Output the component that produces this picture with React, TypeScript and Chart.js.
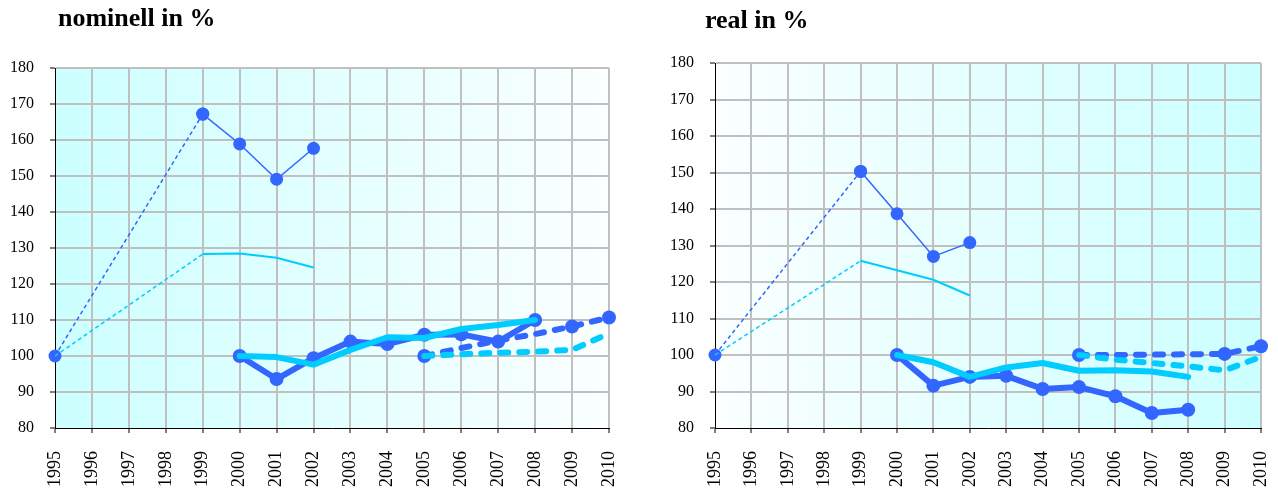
import React, { useEffect, useRef } from "react";
import { Chart, registerables } from "chart.js";

Chart.register(...registerables);

const years = ["1995", "1996", "1997", "1998", "1999", "2000", "2001", "2002", "2003", "2004", "2005", "2006", "2007", "2008", "2009", "2010"];
const yTicks = [80, 90, 100, 110, 120, 130, 140, 150, 160, 170, 180];

const N = null;
// nominell
const nomBlueThinDash = [100, N, N, N, 167.2, N, N, N, N, N, N, N, N, N, N, N];
const nomBlueThin = [N, N, N, N, 167.2, 158.9, 149.1, 157.7, N, N, N, N, N, N, N, N];
const nomCyanThinDash = [100, N, N, N, 128.3, N, N, N, N, N, N, N, N, N, N, N];
const nomCyanThin = [N, N, N, N, 128.3, 128.5, 127.3, 124.6, N, N, N, N, N, N, N, N];
const nomBlueThick = [N, N, N, N, N, 100, 93.6, 99.4, 104, 103.3, 105.9, 106, 104, 110, N, N];
const nomCyanThick = [N, N, N, N, N, 100, 99.7, 97.6, 101.7, 105.2, 105, 107.5, 108.6, 110, N, N];
const nomBlueThickDash = [N, N, N, N, N, N, N, N, N, N, 100, 102.2, 104.3, 106.1, 108.2, 110.7];
const nomCyanThickDash = [N, N, N, N, N, N, N, N, N, N, 100, 100.5, 100.9, 101.2, 101.7, 106.3];

// real
const realBlueThinDash = [100, N, N, N, 150.3, N, N, N, N, N, N, N, N, N, N, N];
const realBlueThin = [N, N, N, N, 150.3, 138.7, 127, 130.8, N, N, N, N, N, N, N, N];
const realCyanThinDash = [100, N, N, N, 125.8, N, N, N, N, N, N, N, N, N, N, N];
const realCyanThin = [N, N, N, N, 125.8, 123.2, 120.6, 116.3, N, N, N, N, N, N, N, N];
const realBlueThick = [N, N, N, N, N, 100, 91.6, 94, 94.3, 90.7, 91.2, 88.7, 84.1, 85, N, N];
const realCyanThick = [N, N, N, N, N, 100, 98, 94, 96.6, 97.8, 95.7, 95.8, 95.5, 94, N, N];
const realBlueThickDash = [N, N, N, N, N, N, N, N, N, N, 100, 100, 100.1, 100.2, 100.3, 102.4];
const realCyanThickDash = [N, N, N, N, N, N, N, N, N, N, 100, 98.7, 97.8, 96.9, 95.8, 99.5];

const BLUE = "#3366ff";
const CYAN = "#00ccff";
const FONT = "'Liberation Serif', 'Times New Roman', serif";

const dashMarkers = [0, 0, 0, 0, 0, 0, 0, 0, 0, 0, 7, 0, 0, 0, 7, 7];

function buildDatasets(s: any) {
  const base = { clip: false as any, pointBorderWidth: 0, pointHoverRadius: 0, tension: 0 };
  return [
    { ...base, data: s.blueThinDash, borderColor: BLUE, backgroundColor: BLUE, borderWidth: 1.5, borderDash: [4, 3], pointRadius: 6.5, spanGaps: true, order: 8 },
    { ...base, data: s.cyanThinDash, borderColor: CYAN, backgroundColor: CYAN, borderWidth: 1.5, borderDash: [4, 3], pointRadius: 0, spanGaps: true, order: 7 },
    { ...base, data: s.blueThin, borderColor: BLUE, backgroundColor: BLUE, borderWidth: 1.5, pointRadius: 6.5, order: 6 },
    { ...base, data: s.cyanThin, borderColor: CYAN, backgroundColor: CYAN, borderWidth: 2, pointRadius: 0, order: 5 },
    { ...base, data: s.blueThick, borderColor: BLUE, backgroundColor: BLUE, borderWidth: 6, pointRadius: 7, borderCapStyle: "round", borderJoinStyle: "round", order: 4 },
    { ...base, data: s.cyanThick, borderColor: CYAN, backgroundColor: CYAN, borderWidth: 6, pointRadius: 0, borderCapStyle: "round", borderJoinStyle: "round", order: 3 },
    { ...base, data: s.blueThickDash, borderColor: BLUE, backgroundColor: BLUE, borderWidth: 6, borderDash: [8, 11], pointRadius: dashMarkers, borderCapStyle: "round", borderJoinStyle: "round", order: 2 },
    { ...base, data: s.cyanThickDash, borderColor: CYAN, backgroundColor: CYAN, borderWidth: 6, borderDash: [8, 11], pointRadius: 0, borderCapStyle: "round", borderJoinStyle: "round", order: 1 },
  ];
}

const gradientPlugin = {
  id: "bgGradient",
  beforeDraw(chart: any, _args: any, opts: any) {
    const { ctx, chartArea } = chart;
    if (!chartArea) return;
    const g = ctx.createLinearGradient(chartArea.left, 0, chartArea.right, 0);
    g.addColorStop(0, opts.from);
    g.addColorStop(1, opts.to);
    ctx.save();
    ctx.fillStyle = g;
    ctx.fillRect(chartArea.left, chartArea.top, chartArea.right - chartArea.left, chartArea.bottom - chartArea.top);
    ctx.restore();
  },
};

function Panel(props: { width: number; height: number; series: any; padTop: number; padRight: number; yWidth: number; from: string; to: string }) {
  const ref = useRef<HTMLCanvasElement>(null);
  useEffect(() => {
    if (!ref.current) return;
    const gridColor = (ctx: any) => (ctx.index === 0 ? "rgba(0,0,0,0)" : "#c0c0c0");
    const chart = new Chart(ref.current, {
      type: "line",
      data: { labels: years, datasets: buildDatasets(props.series) as any },
      plugins: [gradientPlugin],
      options: {
        responsive: false,
        animation: false,
        events: [],
        layout: { padding: { top: props.padTop, right: props.padRight, left: 0, bottom: 0 } },
        plugins: {
          legend: { display: false },
          tooltip: { enabled: false },
          bgGradient: { from: props.from, to: props.to },
        } as any,
        scales: {
          x: {
            type: "category",
            offset: false,
            grid: { color: gridColor, lineWidth: 2, tickColor: "#000", tickWidth: 1, tickLength: 5, offset: false } as any,
            border: { color: "#000", width: 1 },
            ticks: { minRotation: 90, maxRotation: 90, autoSkip: false, padding: 18, color: "#000", font: { family: FONT, size: 18 } },
            afterFit: (s: any) => { s.height = 64; s.paddingLeft = 0; s.paddingRight = 0; },
          },
          y: {
            min: 80,
            max: 180,
            afterBuildTicks: (s: any) => { s.ticks = yTicks.map((v) => ({ value: v })); },
            grid: { color: gridColor, lineWidth: 2, tickColor: "#000", tickWidth: 1, tickLength: 5 } as any,
            border: { color: "#000", width: 1 },
            ticks: { padding: 16, color: "#000", font: { family: FONT, size: 16 } },
            afterFit: (s: any) => { s.width = props.yWidth; s.paddingTop = 0; s.paddingBottom = 0; },
          },
        },
      },
    });
    return () => chart.destroy();
  }, []);
  return <canvas ref={ref} width={props.width} height={props.height} style={{ width: props.width, height: props.height, display: "block" }} />;
}

const nomSeries = {
  blueThinDash: nomBlueThinDash, blueThin: nomBlueThin, cyanThinDash: nomCyanThinDash, cyanThin: nomCyanThin,
  blueThick: nomBlueThick, cyanThick: nomCyanThick, blueThickDash: nomBlueThickDash, cyanThickDash: nomCyanThickDash,
};
const realSeries = {
  blueThinDash: realBlueThinDash, blueThin: realBlueThin, cyanThinDash: realCyanThinDash, cyanThin: realCyanThin,
  blueThick: realBlueThick, cyanThick: realCyanThick, blueThickDash: realBlueThickDash, cyanThickDash: realCyanThickDash,
};

const titleStyle: React.CSSProperties = {
  position: "absolute",
  fontFamily: FONT,
  fontWeight: "bold",
  fontSize: 26,
  lineHeight: "26px",
  color: "#000",
  whiteSpace: "nowrap",
};

export default function App() {
  return (
    <div style={{ position: "absolute", left: 0, top: 0, width: 1278, height: 492, background: "#fff", overflow: "hidden" }}>
      <div style={{ position: "absolute", left: 0, top: 0 }}>
        <Panel width={640} height={492} series={nomSeries} padTop={68} padRight={31} yWidth={55} from="#ccffff" to="#fbffff" />
      </div>
      <div style={{ position: "absolute", left: 640, top: 0 }}>
        <Panel width={638} height={492} series={realSeries} padTop={63} padRight={17} yWidth={75} from="#fbffff" to="#ccffff" />
      </div>
      <div style={{ ...titleStyle, left: 58, top: 5 }}>nominell in %</div>
      <div style={{ ...titleStyle, left: 705, top: 7 }}>real in %</div>
    </div>
  );
}
